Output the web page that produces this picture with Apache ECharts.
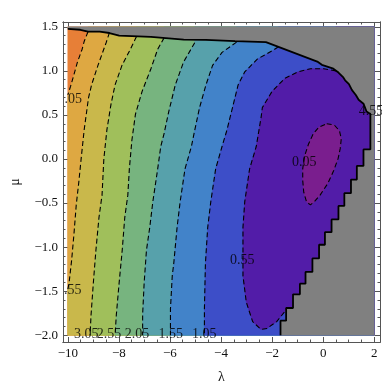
<!DOCTYPE html>
<html>
<head>
<meta charset="utf-8">
<script src="https://cdn.jsdelivr.net/npm/echarts@6/dist/echarts.min.js"></script>
<style>
  html, body { margin: 0; padding: 0; background: #fff; }
  #chart { width: 382px; height: 389px; }
</style>
</head>
<body>
<div id="chart"></div>
<script>
// axis ticks
const xMajor = [-10, -8, -6, -4, -2, 0, 2];
const yMajor = [-2, -1.5, -1, -0.5, 0, 0.5, 1, 1.5];
// data range (lambda, mu)
const lamRange = [-10, 2];
const muRange = [-2, 1.5];

// contour levels and band colours (band below each level)
const levels = [0.05, 0.55, 1.05, 1.55, 2.05, 2.55, 3.05, 3.55, 4.05];
const bandColors = ['#7a1e8e', '#521ca8', '#3d4ec8', '#4283c9', '#57a1ab', '#77b47f', '#a0bf5b', '#c9b84b', '#dea842'];
const topColor = '#e77f37';
const maskColor = '#808080';

// contour lines, [lambda, mu]
const c405 = [[-9.21, 1.445], [-9.36, 1.334], [-9.44, 1.246], [-9.62, 1.103], [-9.77, 0.948], [-9.89, 0.827], [-10, 0.727]];
const c355 = [[-8.37, 1.434], [-8.50, 1.320], [-8.82, 1.062], [-9.07, 0.841], [-9.19, 0.694], [-9.36, 0.330], [-9.48, -0.002],
  [-9.57, -0.263], [-9.67, -0.520], [-9.76, -0.852], [-9.85, -1.147], [-9.95, -1.404], [-10, -1.48]];
const c305 = [[-7.31, 1.390], [-7.55, 1.246], [-7.88, 1.062], [-8.15, 0.841], [-8.31, 0.620], [-8.47, 0.330], [-8.59, -0.002],
  [-8.66, -0.410], [-8.78, -0.664], [-8.90, -1.036], [-9.00, -1.404], [-9.09, -1.768], [-9.13, -2.0]];
const c255 = [[-6.23, 1.375], [-6.48, 1.246], [-6.745, 1.025], [-7.09, 0.768], [-7.35, 0.510], [-7.49, 0.216], [-7.59, -0.112],
  [-7.65, -0.410], [-7.77, -0.664], [-7.87, -1.036], [-7.99, -1.404], [-8.10, -1.768], [-8.15, -2.0]];
const c205 = [[-5.03, 1.320], [-5.47, 1.099], [-5.79, 0.841], [-6.04, 0.547], [-6.23, 0.289], [-6.36, 0.142], [-6.48, -0.112],
  [-6.67, -0.484], [-6.79, -0.774], [-6.92, -1.036], [-7.01, -1.404], [-7.07, -1.768], [-7.07, -2.0]];
const c155 = [[-3.39, 1.327], [-3.96, 1.210], [-4.33, 1.062], [-4.59, 0.841], [-4.84, 0.584], [-5.03, 0.326], [-5.16, 0.142],
  [-5.41, -0.112], [-5.60, -0.484], [-5.72, -0.774], [-5.85, -1.183], [-5.91, -1.327], [-5.98, -1.699], [-5.98, -2.0]];
const c105 = [[-1.75, 1.274], [-2.00, 1.227], [-2.57, 1.136], [-3.07, 0.989], [-3.33, 0.841], [-3.55, 0.584], [-3.77, 0.326],
  [-3.96, 0.142], [-4.21, -0.112], [-4.40, -0.484], [-4.52, -0.774], [-4.61, -1.183], [-4.65, -1.699], [-4.65, -2.0]];
const c055 = [[0.50, 1.0], [0.02, 1.025], [-0.49, 1.025], [-0.99, 0.989], [-1.50, 0.915], [-2.00, 0.768], [-2.38, 0.584],
  [-2.43, 0.473], [-2.62, 0.142], [-2.88, -0.112], [-3.07, -0.484], [-3.14, -0.774], [-3.14, -1.036], [-3.14, -1.327],
  [-3.01, -1.625], [-2.76, -1.846], [-2.44, -1.934], [-2.20, -1.923], [-1.82, -1.846], [-1.45, -1.713]];
const c005 = [[0.14, 0.401], [0.44, 0.385], [0.64, 0.319], [0.71, 0.230], [0.67, 0.120], [0.59, 0.009], [0.41, -0.134],
  [0.18, -0.278], [-0.12, -0.410], [-0.35, -0.487], [-0.50, -0.520], [-0.65, -0.487], [-0.76, -0.377], [-0.80, -0.244],
  [-0.80, -0.112], [-0.73, 0.032], [-0.58, 0.164], [-0.39, 0.285], [-0.16, 0.363], [0.14, 0.401]];

// edge of the region where the function is defined
const boundary = [[-10, 1.478], [-9.51, 1.467], [-9.21, 1.445], [-8.75, 1.445], [-8.37, 1.430], [-7.99, 1.401], [-6.74, 1.386],
  [-5.46, 1.356], [-4.59, 1.351], [-3.45, 1.338], [-2.24, 1.327], [-0.23, 1.106], [-0.05, 1.069], [0.40, 1.025], [0.60, 0.981],
  [0.79, 0.926], [0.86, 0.893], [1.01, 0.849], [1.13, 0.782], [1.28, 0.727], [1.39, 0.672], [1.58, 0.628], [1.70, 0.539],
  [1.85, 0.510], [1.85, 0.109], [1.58, 0.109], [1.58, -0.079], [1.32, -0.079], [1.32, -0.233], [1.09, -0.233], [1.09, -0.388],
  [0.83, -0.388], [0.83, -0.532], [0.60, -0.532], [0.60, -0.686], [0.33, -0.686], [0.33, -0.830], [0.07, -0.830], [0.07, -0.973],
  [-0.16, -0.973], [-0.16, -1.128], [-0.42, -1.128], [-0.42, -1.282], [-0.69, -1.282], [-0.69, -1.415], [-0.91, -1.415],
  [-0.91, -1.536], [-1.18, -1.536], [-1.18, -1.691], [-1.45, -1.691], [-1.45, -1.835], [-1.67, -1.835], [-1.67, -2.0]];

// contour labels as they appear (clipped ones included)
const labelText = ['.05', '.55', '3.05', '2.55', '2.05', '1.55', '1.05', '0.55', '0.05', '4.55'];
const labelLam = [-9.79, -9.81, -9.28, -8.39, -7.29, -5.97, -4.66, -3.17, -0.74, 1.87];
const labelMu = [0.672, -1.496, -1.989, -1.989, -1.989, -1.989, -1.989, -1.155, -0.042, 0.54];

const curves = [c005, c055, c105, c155, c205, c255, c305, c355, c405];

// frame padding around the data range
const xMin = -10.189, xMax = 2.227, yMin = -2.077, yMax = 1.555;

function sublevel(curve) {
  const pts = curve.slice();
  const last = curve[curve.length - 1];
  if (last[0] === lamRange[0]) pts.push([lamRange[0], muRange[0]]);
  pts.push([lamRange[1], muRange[0]], [lamRange[1], muRange[1]], [curve[0][0], muRange[1]]);
  return pts;
}

const fills = [];
fills.push({
  color: topColor,
  points: [[lamRange[0], muRange[0]], [lamRange[1], muRange[0]], [lamRange[1], muRange[1]], [lamRange[0], muRange[1]]]
});
for (let i = levels.length - 1; i >= 0; i--) {
  fills.push({ color: bandColors[i], points: i === 0 ? curves[i] : sublevel(curves[i]) });
}
fills.push({
  color: maskColor,
  points: boundary.concat([[lamRange[1], muRange[0]], [lamRange[1], muRange[1]], [lamRange[0], muRange[1]]])
});

const fmtMinus = s => String(s).replace('-', '\u2212');
const xMinor = [], yMinor = [];
for (let v = -20; v <= 4; v++) if (v % 4 !== 0) xMinor.push(v / 2);
for (let v = -20; v <= 15; v++) if (v % 5 !== 0) yMinor.push(v / 10);

const frameColor = '#555';
const serif = 'Liberation Serif';

function xAxisDef(pos, ticks, len, labels) {
  return {
    type: 'value', position: pos, min: xMin, max: xMax,
    axisLine: { show: true, onZero: false, lineStyle: { color: frameColor, width: 1 } },
    axisTick: { show: true, inside: true, length: len, customValues: ticks, lineStyle: { color: frameColor } },
    axisLabel: labels ? {
      show: true, customValues: xMajor, margin: 5, color: '#111',
      fontFamily: serif, fontSize: 13, formatter: v => fmtMinus(v)
    } : { show: false },
    splitLine: { show: false },
    name: labels ? '\u03bb' : '', nameLocation: 'middle', nameGap: 28,
    nameTextStyle: { fontFamily: serif, fontSize: 14, color: '#111' }
  };
}
function yAxisDef(pos, ticks, len, labels) {
  return {
    type: 'value', position: pos, min: yMin, max: yMax,
    axisLine: { show: true, onZero: false, lineStyle: { color: frameColor, width: 1 } },
    axisTick: { show: true, inside: true, length: len, customValues: ticks, lineStyle: { color: frameColor } },
    axisLabel: labels ? {
      show: true, customValues: yMajor, margin: 5, color: '#111',
      fontFamily: serif, fontSize: 13, formatter: v => fmtMinus(v.toFixed(1))
    } : { show: false },
    splitLine: { show: false },
    name: labels ? '\u03bc' : '', nameLocation: 'middle', nameGap: 41, nameRotate: 90,
    nameTextStyle: { fontFamily: serif, fontSize: 14, color: '#111' }
  };
}

const chart = echarts.init(document.getElementById('chart'), null, { renderer: 'canvas' });

const series = [{
  type: 'custom',
  silent: true,
  data: fills.map(f => f.points[0]),
  renderItem: function (params, api) {
    const f = fills[params.dataIndex];
    return {
      type: 'polygon',
      shape: { points: f.points.map(p => api.coord(p)) },
      style: { fill: f.color, stroke: f.color, lineWidth: 0.6 }
    };
  }
}];

curves.forEach(function (c, i) {
  series.push({
    type: 'line', name: String(levels[i]), data: c, showSymbol: false, silent: true,
    lineStyle: { color: '#000', width: 1.1, type: [5, 3] }
  });
});

series.push({
  type: 'line', name: 'boundary', data: boundary, showSymbol: false, silent: true,
  lineStyle: { color: '#000', width: 1.8 }
});

series.push({
  type: 'scatter', symbolSize: 0, silent: true,
  data: labelText.map((t, i) => ({ name: t, value: [labelLam[i], labelMu[i]] })),
  label: {
    show: true, position: 'inside', formatter: p => p.name,
    fontFamily: serif, fontSize: 14, color: '#000'
  }
});

chart.setOption({
  animation: false,
  backgroundColor: '#fff',
  grid: { left: 52, right: 2, top: 22, bottom: 38, containLabel: false },
  xAxis: [
    xAxisDef('bottom', xMajor, 5, true),
    xAxisDef('bottom', xMinor, 2.5, false),
    xAxisDef('top', xMajor, 5, false),
    xAxisDef('top', xMinor, 2.5, false)
  ],
  yAxis: [
    yAxisDef('left', yMajor, 5, true),
    yAxisDef('left', yMinor, 2.5, false),
    yAxisDef('right', yMajor, 5, false),
    yAxisDef('right', yMinor, 2.5, false)
  ],
  series: series
});
window.addEventListener('resize', function () { chart.resize(); });
</script>
</body>
</html>
